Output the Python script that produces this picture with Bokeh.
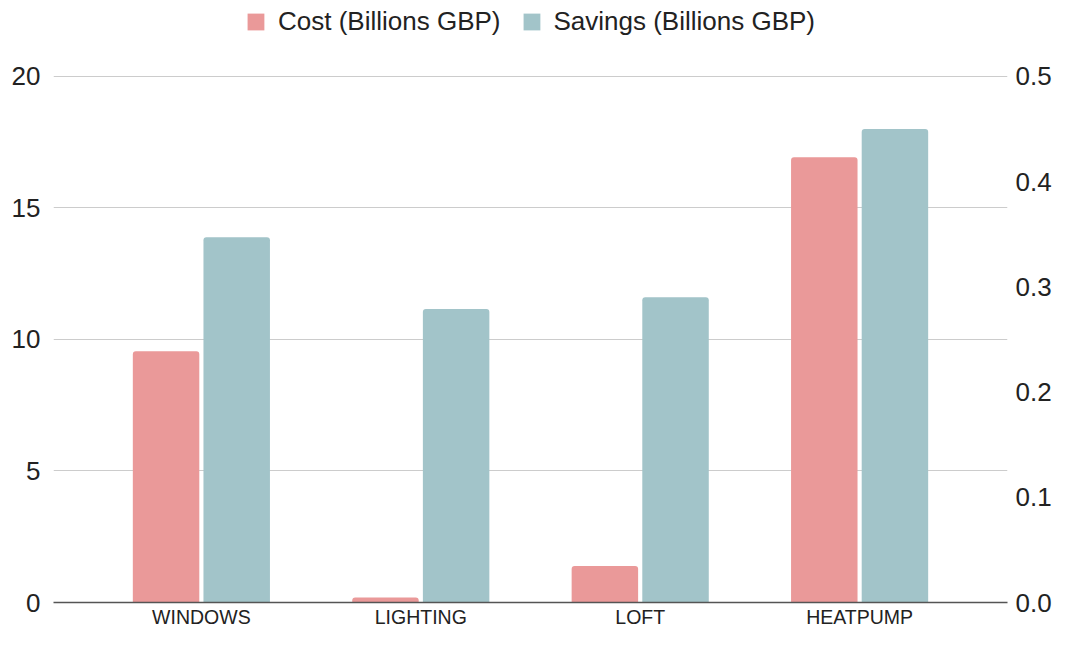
from bokeh.plotting import figure
from bokeh.models import (ColumnDataSource, FactorRange, Range1d, LinearAxis,
                          Legend, LegendItem, FixedTicker, NumeralTickFormatter)
from bokeh.transform import dodge
from bokeh.embed import file_html
from bokeh.resources import INLINE

categories = ["WINDOWS", "LIGHTING", "LOFT", "HEATPUMP"]
cost = [9.55, 0.19, 1.39, 16.93]
savings = [0.347, 0.279, 0.29, 0.45]
left_ticks = [0, 5, 10, 15, 20]
right_ticks = [0.0, 0.1, 0.2, 0.3, 0.4, 0.5]

src = ColumnDataSource(dict(cat=categories, cost=cost, savings=savings))

FONT = "Liberation Sans"
COST_C = "#ea9999"
SAV_C = "#a2c4c9"

# frame spans the whole height; headroom above the top tick holds the legend
FRAME_H = 603
HEAD = 76
k = FRAME_H / (FRAME_H - HEAD)

p = figure(width=1054, height=630,
           x_range=FactorRange(*categories, range_padding=0.087),
           y_range=Range1d(0, left_ticks[-1] * k),
           output_backend="svg", toolbar_location=None,
           min_border_left=53, min_border_right=44,
           min_border_top=0, min_border_bottom=27)
p.outline_line_color = None
p.extra_y_ranges = {"sav": Range1d(0, right_ticks[-1] * k)}

r1 = p.vbar(x=dodge("cat", -0.161, range=p.x_range), top="cost", width=0.303,
            source=src, fill_color=COST_C, line_color=None,
            border_radius=(3, 3, 0, 0))
r2 = p.vbar(x=dodge("cat", 0.161, range=p.x_range), top="savings", width=0.303,
            source=src, fill_color=SAV_C, line_color=None,
            border_radius=(3, 3, 0, 0), y_range_name="sav")

def style_axis(ax, size, standoff):
    ax.axis_line_color = None
    ax.major_tick_line_color = None
    ax.major_tick_out = 0
    ax.major_tick_in = 0
    ax.minor_tick_line_color = None
    ax.minor_tick_out = 0
    ax.minor_tick_in = 0
    ax.major_label_text_font = FONT
    ax.major_label_text_font_size = size
    ax.major_label_text_color = "#222222"
    ax.major_label_standoff = standoff

# left axis
ya = p.yaxis[0]
ya.ticker = FixedTicker(ticks=left_ticks)
style_axis(ya, "26px", 13)

# right axis
ra = LinearAxis(y_range_name="sav", ticker=FixedTicker(ticks=right_ticks),
                formatter=NumeralTickFormatter(format="0.0"))
style_axis(ra, "26px", 8)
p.add_layout(ra, "right")

# x axis
xa = p.xaxis[0]
style_axis(xa, "19.5px", 3)
xa.axis_line_color = "#555555"
xa.axis_line_width = 1.5

p.xgrid.grid_line_color = None
p.ygrid.grid_line_color = "#cccccc"
p.ygrid.ticker = FixedTicker(ticks=left_ticks)

legend = Legend(items=[LegendItem(label="Cost (Billions GBP)", renderers=[r1]),
                       LegendItem(label="Savings (Billions GBP)", renderers=[r2])],
                orientation="horizontal", location="top_center",
                padding=0, margin=6, spacing=20, label_standoff=12,
                glyph_width=21, glyph_height=21,
                label_text_font=FONT, label_text_font_size="26px",
                label_text_color="#222222",
                border_line_color=None, background_fill_alpha=0)
p.add_layout(legend, "center")

open("out.html", "w").write(file_html(p, INLINE))
